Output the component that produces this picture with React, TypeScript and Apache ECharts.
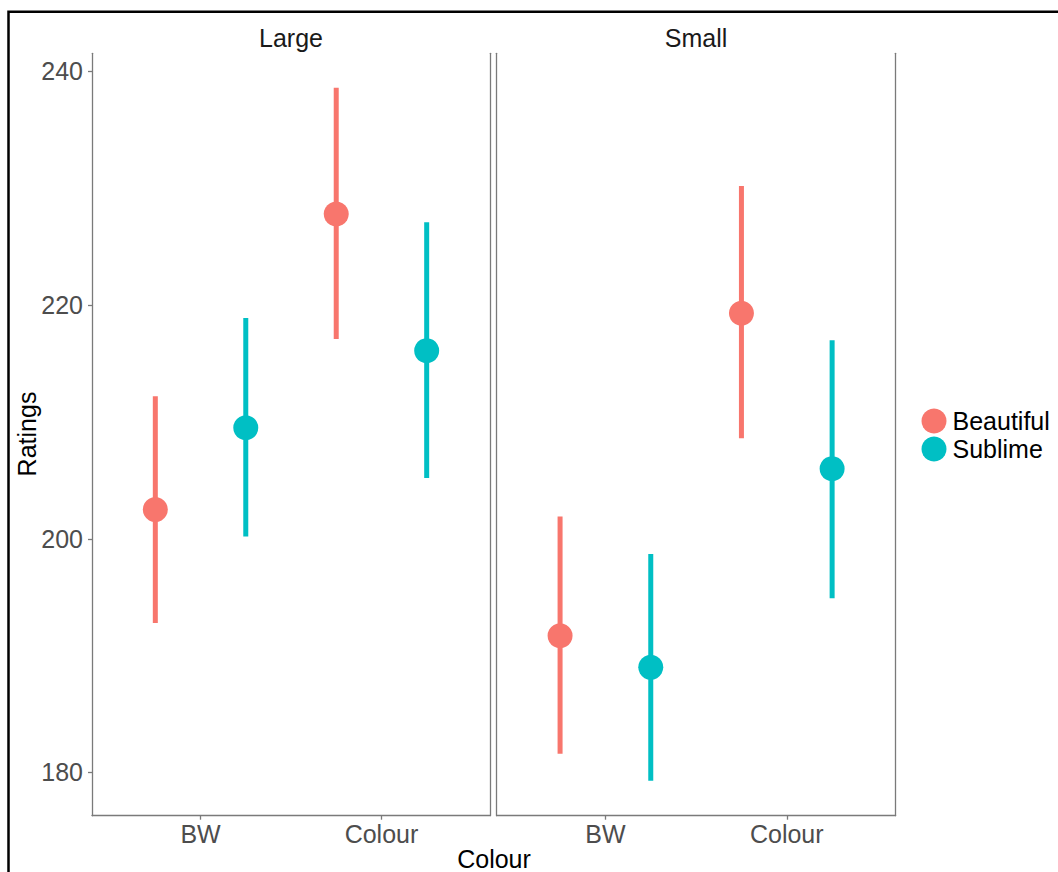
import React, { useEffect, useRef } from "react";
import * as echarts from "echarts";

const categories = ["BW", "Colour"];
const facets = ["Large", "Small"];
const groups = ["Beautiful", "Sublime"];
const groupColors = ["#F8766D", "#00BFC4"];
const yTicks = [180, 200, 220, 240];

// values per category (BW, Colour)
const largeBeautifulMean = [202.5, 227.8];
const largeBeautifulLower = [192.8, 217.1];
const largeBeautifulUpper = [212.2, 238.6];
const largeSublimeMean = [209.5, 216.1];
const largeSublimeLower = [200.2, 205.2];
const largeSublimeUpper = [218.9, 227.1];
const smallBeautifulMean = [191.7, 219.3];
const smallBeautifulLower = [181.6, 208.6];
const smallBeautifulUpper = [201.9, 230.2];
const smallSublimeMean = [189.0, 206.0];
const smallSublimeLower = [179.3, 194.9];
const smallSublimeUpper = [198.7, 217.0];

const facetData = [
  [
    { mean: largeBeautifulMean, lower: largeBeautifulLower, upper: largeBeautifulUpper },
    { mean: largeSublimeMean, lower: largeSublimeLower, upper: largeSublimeUpper },
  ],
  [
    { mean: smallBeautifulMean, lower: smallBeautifulLower, upper: smallBeautifulUpper },
    { mean: smallSublimeMean, lower: smallSublimeLower, upper: smallSublimeUpper },
  ],
];

const FONT = "'Liberation Sans', Arial, sans-serif";
const AXIS_GREY = "#7a7a7a";
const TICK_TEXT = "#4d4d4d";
const DODGE = 0.5;

export default function App() {
  const ref = useRef<HTMLDivElement>(null);

  useEffect(() => {
    if (!ref.current) return;
    const chart = echarts.init(ref.current, null, { renderer: "svg" });

    const gridDefs = [
      { left: 92, top: 53.3, width: 398, height: 762.4 },
      { left: 496.6, top: 53.3, width: 399, height: 762.4 },
    ];

    const xAxes: any[] = [];
    const yAxes: any[] = [];
    const series: any[] = [];

    facets.forEach((f, fi) => {
      xAxes.push({
        type: "value",
        gridIndex: fi,
        min: 0.4,
        max: 2.6,
        splitLine: { show: false },
        axisLine: { show: true, lineStyle: { color: AXIS_GREY, width: 1.3 } },
        axisTick: {
          show: true,
          length: 4,
          customValues: [1, 2],
          lineStyle: { color: AXIS_GREY, width: 1.3 },
        },
        axisLabel: {
          customValues: [1, 2],
          margin: 6,
          color: TICK_TEXT,
          fontSize: 25,
          fontFamily: FONT,
          formatter: (v: number) => categories[Math.round(v) - 1] ?? "",
        },
      });
      // left axis
      yAxes.push({
        type: "value",
        gridIndex: fi,
        min: 176.3,
        max: 241.55,
        position: "left",
        splitLine: { show: false },
        axisLine: { show: true, lineStyle: { color: AXIS_GREY, width: 1.3 } },
        axisTick: {
          show: fi === 0,
          length: 4,
          customValues: yTicks,
          lineStyle: { color: AXIS_GREY, width: 1.3 },
        },
        axisLabel: {
          show: fi === 0,
          customValues: yTicks,
          margin: 9,
          color: TICK_TEXT,
          fontSize: 25,
          fontFamily: FONT,
        },
      });
      // right border axis
      yAxes.push({
        type: "value",
        gridIndex: fi,
        min: 176.3,
        max: 241.55,
        position: "right",
        splitLine: { show: false },
        axisLine: { show: true, lineStyle: { color: AXIS_GREY, width: 1.3 } },
        axisTick: { show: false },
        axisLabel: { show: false },
      });

      groups.forEach((g, gi) => {
        const d = facetData[fi][gi];
        const xs = categories.map((_, ci) => ci + 1 + (gi - 0.5) * DODGE);
        const color = groupColors[gi];
        series.push({
          type: "custom",
          name: g + " interval",
          xAxisIndex: fi,
          yAxisIndex: fi * 2,
          z: 2,
          data: xs.map((x, ci) => [x, d.lower[ci], d.upper[ci]]),
          encode: { x: 0, y: [1, 2] },
          renderItem: (_params: any, api: any) => {
            const x = api.value(0);
            const p1 = api.coord([x, api.value(1)]);
            const p2 = api.coord([x, api.value(2)]);
            return {
              type: "line",
              shape: { x1: p1[0], y1: p1[1], x2: p2[0], y2: p2[1] },
              style: { stroke: color, lineWidth: 5, lineCap: "butt" },
            };
          },
        });
        series.push({
          type: "scatter",
          name: g,
          xAxisIndex: fi,
          yAxisIndex: fi * 2,
          z: 3,
          symbol: "circle",
          symbolSize: 25,
          itemStyle: { color, opacity: 1 },
          data: xs.map((x, ci) => [x, d.mean[ci]]),
        });
      });
    });

    chart.setOption({
      animation: false,
      backgroundColor: "#ffffff",
      grid: gridDefs.map((g) => ({ ...g, containLabel: false })),
      xAxis: xAxes,
      yAxis: yAxes,
      series,
      legend: {
        data: groups,
        orient: "vertical",
        left: 921.5,
        top: 408.5,
        padding: 0,
        icon: "circle",
        itemWidth: 25,
        itemHeight: 25,
        itemGap: 3,
        textStyle: { color: "#000", fontSize: 25, fontFamily: FONT, padding: [0, 0, 0, 1] },
      },
      graphic: [
        {
          type: "rect",
          shape: { x: 8.5, y: 11.7, width: 1300, height: 1000 },
          style: { fill: "none", stroke: "#000", lineWidth: 2.5 },
          silent: true,
        },
        {
          type: "text",
          x: 291,
          y: 38,
          style: {
            text: facets[0],
            fontSize: 25,
            fontFamily: FONT,
            fill: "#1a1a1a",
            align: "center",
            verticalAlign: "middle",
          },
        },
        {
          type: "text",
          x: 696,
          y: 38,
          style: {
            text: facets[1],
            fontSize: 25,
            fontFamily: FONT,
            fill: "#1a1a1a",
            align: "center",
            verticalAlign: "middle",
          },
        },
        {
          type: "text",
          x: 494,
          y: 859,
          style: {
            text: "Colour",
            fontSize: 25,
            fontFamily: FONT,
            fill: "#000",
            align: "center",
            verticalAlign: "middle",
          },
        },
        {
          type: "text",
          x: 27,
          y: 434,
          rotation: Math.PI / 2,
          style: {
            text: "Ratings",
            fontSize: 25,
            fontFamily: FONT,
            fill: "#000",
            align: "center",
            verticalAlign: "middle",
          },
        },
      ],
    });

    return () => chart.dispose();
  }, []);

  return (
    <div
      ref={ref}
      style={{ position: "fixed", left: 0, top: 0, width: 1058, height: 872, background: "#fff" }}
    />
  );
}
